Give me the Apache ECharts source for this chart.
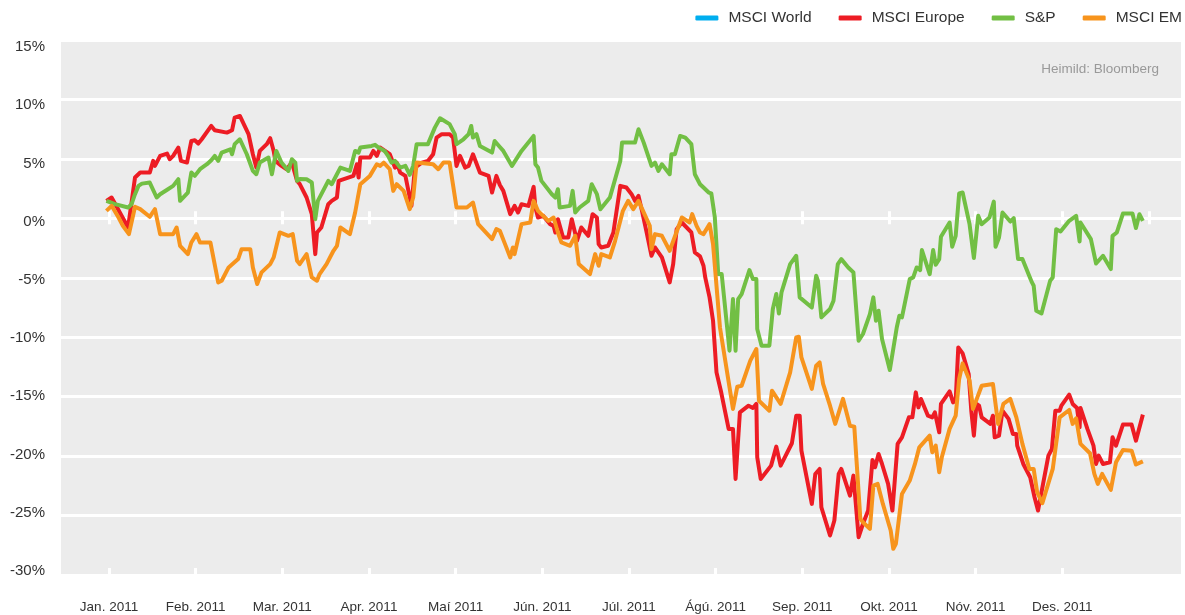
<!DOCTYPE html>
<html lang="is" style="height: 100%;overflow: hidden;">
<head>
  <meta charset="utf-8">
  <style>
    body { margin: 0; background: #fff; }
    #container { width: 1185px; height: 615px; }
  </style>
</head>
<body>
  <div id="container"></div>
  <script type="text/javascript" src="https://fastly.jsdelivr.net/npm/echarts@6/dist/echarts.min.js"></script>
  <script type="text/javascript">
    // x = months since start of Jan 2011, y = % change
    var monthLabels = ['Jan. 2011', 'Feb. 2011', 'Mar. 2011', 'Apr. 2011', 'Maí 2011', 'Jún. 2011',
      'Júl. 2011', 'Ágú. 2011', 'Sep. 2011', 'Okt. 2011', 'Nóv. 2011', 'Des. 2011'];
    var labelMonths = [0, 1, 2, 3, 4, 5, 6, 7, 8, 9, 10, 11];
    var tickMonths = [0, 1, 2, 3, 4, 5, 6, 7, 8, 9, 10, 11, 12];
    var seriesNames = ['MSCI World', 'MSCI Europe', 'S&P', 'MSCI EM'];

    var msciWorld = [];

    var msciEurope = [[-0.03,1.47],[0.03,1.75],[0.22,-0.77],[0.30,3.43],[0.36,3.85],[0.47,3.85],[0.51,4.83],[0.53,4.41],[0.59,5.25],[0.67,5.45],[0.70,4.97],[0.74,5.25],[0.80,5.95],[0.83,4.83],[0.90,4.69],[0.95,6.51],[0.99,6.57],[1.03,6.29],[1.07,6.65],[1.18,7.77],[1.22,7.41],[1.36,7.21],[1.42,7.41],[1.45,8.47],[1.51,8.61],[1.53,8.50],[1.61,7.08],[1.66,5.39],[1.70,4.27],[1.74,5.67],[1.82,6.24],[1.86,6.74],[1.90,5.67],[1.92,4.83],[1.99,4.41],[2.05,4.13],[2.11,4.69],[2.17,3.15],[2.20,2.9],[2.28,1.75],[2.34,0.35],[2.38,-3.01],[2.40,-1.19],[2.45,-0.77],[2.53,1.19],[2.57,1.47],[2.63,1.75],[2.65,3.15],[2.82,3.57],[2.86,4.55],[2.88,3.43],[2.90,5.11],[3.01,5.11],[3.05,5.67],[3.09,5.25],[3.13,5.95],[3.24,5.39],[3.30,4.27],[3.32,4.69],[3.36,3.85],[3.42,3.57],[3.49,1.05],[3.53,4.27],[3.61,4.69],[3.68,4.83],[3.74,5.39],[3.78,6.79],[3.84,7.08],[3.93,7.08],[3.97,6.79],[4.01,4.41],[4.05,5.25],[4.11,4.27],[4.15,4.41],[4.20,5.39],[4.28,3.85],[4.38,3.57],[4.42,2.17],[4.47,3.57],[4.51,2.8],[4.55,2.31],[4.63,0.35],[4.68,1.05],[4.72,0.49],[4.76,1.19],[4.84,1.05],[4.90,2.65],[4.92,0.91],[4.95,0.07],[5.01,0.21],[5.09,-0.49],[5.13,-0.63],[5.15,-1.19],[5.18,-0.07],[5.24,-1.61],[5.30,-1.61],[5.34,-0.07],[5.40,-1.89],[5.45,-0.77],[5.53,-1.47],[5.58,0.35],[5.63,0.07],[5.65,-2.17],[5.68,-2.45],[5.76,-2.31],[5.82,-1.19],[5.90,2.73],[5.97,2.59],[6.03,2.03],[6.07,1.47],[6.11,1.89],[6.15,0.63],[6.20,-1.05],[6.26,-3.15],[6.30,-2.45],[6.38,-3.29],[6.47,-5.39],[6.51,-3.85],[6.55,-0.91],[6.61,-0.35],[6.72,-1.19],[6.76,-2.87],[6.82,-3.2],[6.86,-3.99],[6.88,-4.97],[6.93,-6.65],[6.97,-8.61],[7.01,-12.96],[7.06,-14.50],[7.15,-17.71],[7.20,-17.71],[7.23,-21.92],[7.28,-16.32],[7.38,-15.76],[7.43,-15.95],[7.47,-15.61],[7.48,-20.10],[7.52,-21.92],[7.64,-20.80],[7.70,-19.20],[7.75,-20.80],[7.88,-18.92],[7.93,-16.60],[7.97,-16.60],[7.99,-19.54],[8.11,-24.02],[8.15,-21.50],[8.20,-21.08],[8.22,-24.30],[8.32,-26.68],[8.37,-25.42],[8.42,-21.50],[8.45,-21.08],[8.55,-23.32],[8.59,-21.64],[8.65,-26.82],[8.70,-25.70],[8.76,-24.58],[8.81,-20.32],[8.84,-20.94],[8.88,-19.82],[8.92,-20.66],[8.99,-22.34],[9.04,-24.58],[9.10,-18.97],[9.15,-18.42],[9.23,-16.74],[9.27,-16.74],[9.31,-14.64],[9.34,-15.90],[9.37,-15.19],[9.45,-16.60],[9.50,-16.74],[9.53,-16.32],[9.58,-18.00],[9.60,-15.61],[9.70,-14.55],[9.74,-15.48],[9.77,-15.34],[9.80,-10.86],[9.85,-11.36],[9.92,-13.09],[9.95,-16.18],[9.98,-18.28],[10.01,-15.61],[10.04,-15.76],[10.07,-16.74],[10.17,-17.29],[10.20,-16.60],[10.22,-18.42],[10.27,-18.28],[10.31,-16.18],[10.38,-16.87],[10.43,-18.13],[10.47,-18.13],[10.48,-19.12],[10.55,-20.66],[10.63,-21.78],[10.68,-23.46],[10.72,-24.58],[10.84,-19.96],[10.88,-19.40],[10.92,-16.18],[10.97,-16.18],[10.99,-15.76],[11.08,-14.83],[11.12,-15.61],[11.17,-15.95],[11.20,-17.58],[11.21,-15.95],[11.29,-17.71],[11.36,-19.12],[11.39,-20.66],[11.42,-19.96],[11.47,-20.66],[11.55,-20.52],[11.58,-18.42],[11.62,-19.12],[11.70,-17.35],[11.80,-17.35],[11.85,-18.70],[11.93,-16.51]];

    var sp = [[-0.03,1.47],[-0.01,1.53],[0.07,1.19],[0.22,0.91],[0.26,1.19],[0.30,2.03],[0.34,2.73],[0.38,2.92],[0.47,3.01],[0.55,1.75],[0.59,2.03],[0.68,2.45],[0.74,2.73],[0.80,3.29],[0.82,1.47],[0.91,2.17],[0.95,3.85],[0.99,3.57],[1.05,4.13],[1.13,4.55],[1.18,4.89],[1.22,5.25],[1.26,4.83],[1.30,5.53],[1.40,5.81],[1.42,5.39],[1.45,6.24],[1.51,6.65],[1.59,5.39],[1.66,3.99],[1.70,3.71],[1.74,4.69],[1.84,5.11],[1.88,3.71],[1.90,3.57],[1.93,5.67],[1.99,4.69],[2.07,3.99],[2.11,4.97],[2.15,4.69],[2.17,3.15],[2.20,3.3],[2.28,3.29],[2.34,3.01],[2.38,-0.07],[2.41,1.47],[2.53,3.15],[2.57,2.87],[2.63,3.71],[2.67,4.27],[2.78,3.99],[2.84,5.67],[2.88,5.53],[2.90,5.95],[3.03,6.09],[3.07,6.18],[3.11,5.95],[3.18,5.67],[3.22,5.25],[3.26,4.69],[3.30,4.83],[3.36,4.27],[3.42,4.41],[3.47,3.66],[3.51,4.41],[3.55,6.24],[3.68,6.24],[3.76,7.63],[3.82,8.42],[3.93,7.92],[3.99,7.08],[4.01,6.24],[4.09,6.65],[4.15,7.08],[4.18,7.77],[4.20,6.79],[4.24,7.08],[4.28,6.09],[4.42,5.53],[4.45,6.51],[4.51,6.0],[4.55,5.67],[4.65,4.41],[4.76,5.67],[4.90,6.93],[4.92,4.55],[4.95,4.27],[4.99,3.15],[5.11,2.03],[5.15,1.75],[5.18,2.45],[5.20,0.91],[5.32,1.05],[5.35,2.31],[5.38,0.49],[5.43,0.91],[5.53,1.47],[5.57,2.87],[5.63,2.03],[5.67,0.77],[5.78,1.75],[5.90,4.83],[5.92,6.37],[6.07,6.37],[6.11,7.50],[6.17,6.37],[6.26,4.41],[6.30,4.69],[6.34,3.99],[6.38,4.55],[6.47,3.71],[6.49,5.39],[6.53,5.39],[6.59,6.93],[6.65,6.79],[6.72,6.24],[6.76,3.71],[6.82,2.87],[6.86,2.59],[6.92,2.17],[6.95,2.1],[6.99,0.14],[7.03,-4.69],[7.07,-4.69],[7.16,-11.13],[7.20,-6.79],[7.23,-11.13],[7.26,-6.79],[7.30,-6.37],[7.39,-4.35],[7.43,-5.11],[7.47,-5.11],[7.48,-9.31],[7.53,-10.71],[7.62,-10.71],[7.66,-7.63],[7.70,-6.37],[7.73,-8.00],[7.76,-6.23],[7.86,-3.85],[7.93,-3.15],[7.97,-6.65],[8.11,-7.50],[8.16,-4.83],[8.18,-5.25],[8.22,-8.33],[8.32,-7.63],[8.36,-6.93],[8.41,-3.85],[8.45,-3.43],[8.53,-4.13],[8.59,-4.55],[8.65,-10.29],[8.70,-9.73],[8.78,-8.05],[8.82,-6.65],[8.85,-8.61],[8.88,-7.77],[8.92,-10.15],[9.01,-12.76],[9.09,-9.18],[9.12,-8.19],[9.15,-8.33],[9.24,-5.11],[9.28,-4.97],[9.32,-4.13],[9.36,-4.35],[9.38,-2.67],[9.47,-4.69],[9.51,-2.67],[9.54,-3.91],[9.58,-3.43],[9.60,-1.55],[9.70,-0.35],[9.73,-2.39],[9.77,-1.47],[9.81,2.09],[9.85,2.17],[9.93,-0.49],[9.98,-3.34],[10.03,0.21],[10.07,-0.49],[10.16,0.07],[10.21,1.41],[10.23,-2.39],[10.27,-1.61],[10.31,0.49],[10.40,-0.27],[10.44,0.02],[10.49,-3.43],[10.54,-3.43],[10.61,-4.69],[10.65,-5.39],[10.67,-5.67],[10.70,-7.77],[10.76,-8.00],[10.86,-5.25],[10.89,-4.97],[10.93,-0.91],[10.98,-1.11],[11.08,-0.21],[11.16,0.21],[11.20,-1.95],[11.21,-0.35],[11.33,-1.75],[11.39,-3.80],[11.47,-3.15],[11.56,-4.27],[11.58,-1.47],[11.63,-1.19],[11.70,0.40],[11.81,0.40],[11.85,-0.82],[11.89,0.35],[11.93,-0.21]];

    var msciEM = [[-0.03,0.63],[0.03,1.05],[0.11,0.07],[0.16,-0.63],[0.23,-1.33],[0.30,0.97],[0.36,0.77],[0.47,0.13],[0.53,0.77],[0.59,-1.33],[0.74,-1.33],[0.78,-0.77],[0.82,-2.31],[0.91,-3.01],[0.95,-2.03],[1.01,-1.33],[1.05,-2.03],[1.17,-2.03],[1.26,-5.39],[1.30,-5.25],[1.38,-4.13],[1.49,-3.43],[1.53,-2.59],[1.63,-2.59],[1.66,-4.13],[1.71,-5.53],[1.76,-4.55],[1.86,-3.85],[1.90,-3.29],[1.97,-1.19],[2.07,-1.47],[2.12,-1.33],[2.17,-3.57],[2.20,-3.85],[2.28,-3.01],[2.34,-4.97],[2.40,-5.25],[2.43,-4.69],[2.51,-3.85],[2.59,-2.73],[2.63,-2.31],[2.67,-0.77],[2.78,-1.33],[2.84,0.49],[2.90,2.87],[3.01,3.57],[3.09,4.55],[3.13,4.41],[3.17,4.69],[3.24,4.13],[3.28,2.31],[3.32,2.87],[3.40,2.31],[3.47,0.77],[3.51,1.75],[3.55,4.69],[3.74,4.55],[3.80,4.13],[3.86,4.69],[3.93,4.69],[4.01,0.91],[4.13,0.91],[4.20,1.33],[4.26,-0.49],[4.42,-1.75],[4.47,-0.91],[4.51,-1.05],[4.57,-2.17],[4.63,-3.29],[4.66,-2.45],[4.68,-3.01],[4.76,-0.49],[4.86,-0.35],[4.90,1.47],[4.95,0.63],[5.01,0.21],[5.07,-0.21],[5.13,0.07],[5.18,-1.19],[5.22,-2.03],[5.32,-2.31],[5.38,-1.47],[5.42,-3.85],[5.55,-4.69],[5.61,-3.01],[5.65,-3.99],[5.68,-3.01],[5.78,-3.29],[5.84,-1.89],[5.93,0.63],[5.99,1.47],[6.05,0.77],[6.11,1.47],[6.24,-0.63],[6.26,-2.59],[6.30,-1.33],[6.38,-1.47],[6.47,-2.73],[6.61,0.07],[6.70,-0.35],[6.73,0.35],[6.78,-0.63],[6.82,-1.19],[6.86,-1.33],[6.93,-0.49],[6.97,-2.17],[7.05,-9.18],[7.20,-16.03],[7.25,-14.16],[7.30,-14.08],[7.40,-11.97],[7.47,-10.99],[7.50,-15.34],[7.62,-16.18],[7.65,-14.50],[7.75,-15.61],[7.86,-12.96],[7.93,-10.02],[7.96,-9.96],[7.99,-11.70],[8.11,-14.35],[8.16,-12.39],[8.20,-12.12],[8.24,-13.93],[8.32,-15.76],[8.38,-17.29],[8.47,-15.19],[8.55,-17.44],[8.60,-17.52],[8.67,-25.28],[8.70,-25.56],[8.78,-26.12],[8.82,-22.48],[8.87,-22.34],[8.93,-24.02],[9.02,-26.26],[9.05,-27.80],[9.08,-27.38],[9.15,-23.18],[9.24,-22.06],[9.30,-20.66],[9.35,-19.26],[9.47,-18.28],[9.50,-19.68],[9.54,-19.12],[9.58,-21.36],[9.61,-20.10],[9.70,-17.71],[9.77,-16.60],[9.81,-13.51],[9.85,-12.20],[9.93,-13.65],[9.97,-16.03],[10.02,-15.06],[10.07,-14.08],[10.20,-13.93],[10.26,-17.29],[10.32,-15.61],[10.40,-15.19],[10.47,-16.74],[10.54,-18.97],[10.62,-21.08],[10.67,-21.08],[10.71,-23.04],[10.77,-23.96],[10.89,-21.08],[10.97,-16.74],[11.08,-16.12],[11.12,-17.29],[11.16,-16.83],[11.21,-18.97],[11.32,-19.76],[11.37,-21.50],[11.41,-22.34],[11.46,-21.50],[11.56,-22.84],[11.62,-20.52],[11.70,-19.48],[11.80,-19.54],[11.85,-20.71],[11.93,-20.44]];

    var dom = document.getElementById('container');
    var myChart = echarts.init(dom, null, { renderer: 'canvas' });

    var xMin = -0.554;
    var xMax = 12.37;
    var tickStyle = { color: '#fff', width: 3 };

    function lineSeries(name, data) {
      return {
        name: name,
        type: 'line',
        data: data,
        showSymbol: false,
        symbol: 'none',
        lineStyle: { width: 4, join: 'round' },
        emphasis: { disabled: true },
        animation: false
      };
    }

    var option = {
      color: ['#00aeef', '#ed1c24', '#72bf44', '#f7941d'],
      textStyle: { fontFamily: 'Liberation Sans, Arial, sans-serif' },
      title: {
        text: 'Heimild: Bloomberg',
        right: 26,
        top: 62,
        padding: 0,
        textStyle: { fontSize: 13.5, fontWeight: 'normal', color: '#999' }
      },
      legend: {
        data: seriesNames,
        right: 3,
        top: 10,
        padding: 0,
        icon: 'roundRect',
        itemWidth: 23,
        itemHeight: 5,
        itemGap: 27,
        textStyle: { fontSize: 15.5, color: '#333', padding: [0, 0, 0, 5] }
      },
      grid: [
        {
          left: 61,
          right: 4,
          top: 40,
          bottom: 40,
          show: true,
          backgroundColor: '#ececec',
          borderWidth: 0
        },
        // the value labels sit on a slightly tighter scale than the grid lines
        { left: 61, right: 4, top: 47, bottom: 44 }
      ],
      xAxis: [
        {
          type: 'value',
          min: xMin,
          max: xMax,
          position: 'bottom',
          axisLine: { show: false, onZero: false },
          splitLine: { show: false },
          axisTick: { show: true, inside: true, length: 7, lineStyle: tickStyle, customValues: labelMonths },
          axisLabel: {
            customValues: labelMonths,
            margin: 25,
            fontSize: 13.5,
            color: '#333',
            formatter: function (v) { return monthLabels[Math.round(v)] || ''; }
          }
        },
        {
          type: 'value',
          min: xMin,
          max: xMax,
          position: 'bottom',
          axisLine: { show: false, onZero: true, onZeroAxisIndex: 0 },
          splitLine: { show: false },
          axisTick: { show: true, inside: true, length: 7, lineStyle: tickStyle, customValues: tickMonths },
          axisLabel: { show: false }
        },
        {
          type: 'value',
          min: xMin,
          max: xMax,
          position: 'bottom',
          axisLine: { show: false, onZero: true, onZeroAxisIndex: 0 },
          splitLine: { show: false },
          axisTick: { show: true, inside: false, length: 6, lineStyle: tickStyle, customValues: tickMonths },
          axisLabel: { show: false }
        },
        { type: 'value', gridIndex: 1, min: xMin, max: xMax, show: false }
      ],
      yAxis: [
        {
          type: 'value',
          min: -30,
          max: 15,
          interval: 5,
          axisLine: { show: false },
          axisTick: { show: false },
          axisLabel: { show: false },
          splitLine: { lineStyle: { color: '#fff', width: 3 } }
        },
        {
          type: 'value',
          gridIndex: 1,
          min: -30,
          max: 15,
          interval: 5,
          axisLine: { show: false },
          axisTick: { show: false },
          axisLabel: { formatter: '{value}%', fontSize: 15, color: '#333', margin: 16 },
          splitLine: { show: false }
        }
      ],
      series: [
        lineSeries('MSCI World', msciWorld),
        lineSeries('MSCI Europe', msciEurope),
        lineSeries('S&P', sp),
        lineSeries('MSCI EM', msciEM)
      ]
    };

    if (option && typeof option === 'object') {
      myChart.setOption(option);
    }

    window.addEventListener('resize', myChart.resize);
  </script>
</body>
</html>
